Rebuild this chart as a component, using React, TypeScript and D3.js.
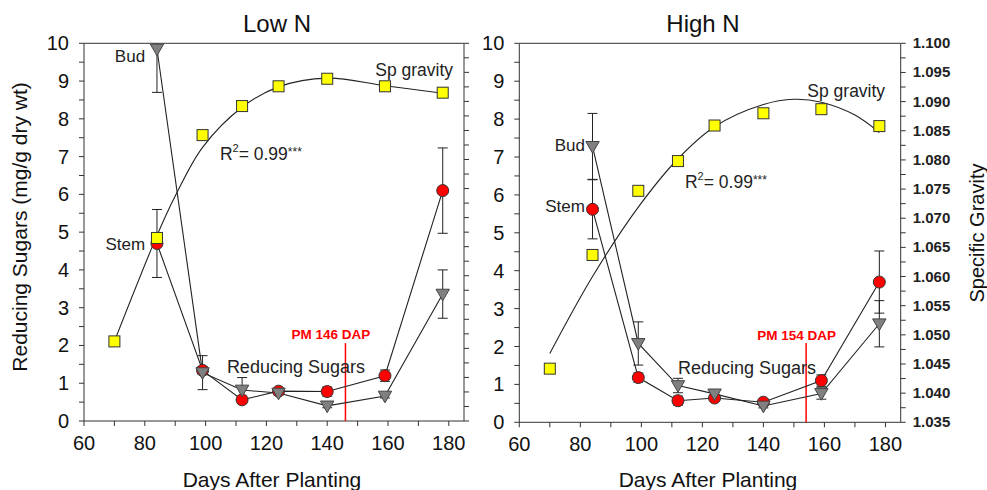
import React from 'react';
import * as d3 from 'd3';

// sampling days
const DAYS = [84, 99, 112, 124, 140, 159, 178];
const SG_DAYS = [70, 84, 99, 112, 124, 140, 159, 178];

// Low N
const LOW_BUD = [9.85, 1.28, 0.82, 0.74, 0.4, 0.66, 3.36];
const LOW_BUD_ERR = [1.15, 0.45, 0.33, 0.05, 0.05, 0.05, 0.64];
const LOW_STEM = [4.7, 1.34, 0.56, 0.79, 0.78, 1.2, 6.1];
const LOW_STEM_ERR = [0.9, 0.1, 0.1, 0.05, 0.12, 0.15, 1.13];
const LOW_SG = [1.0487, 1.0665, 1.0842, 1.0892, 1.0926, 1.0939, 1.0926, 1.0915];
const LOW_FIT_DAYS = [70, 84, 90, 99, 112, 124, 140, 159, 178];
const LOW_FIT = [1.0487, 1.0669, 1.0737, 1.0821, 1.0890, 1.0925, 1.0940, 1.0927, 1.0914];

// High N
const HIGH_BUD = [7.28, 2.08, 0.97, 0.75, 0.43, 0.76, 2.6];
const HIGH_BUD_ERR = [0.87, 0.57, 0.19, 0.05, 0.05, 0.15, 0.61];
const HIGH_STEM = [5.62, 1.18, 0.57, 0.64, 0.53, 1.1, 3.7];
const HIGH_STEM_ERR = [0.78, 0.12, 0.12, 0.05, 0.05, 0.15, 0.82];
const HIGH_SG = [1.0442, 1.0637, 1.0747, 1.0798, 1.0859, 1.0880, 1.0887, 1.0858];
const HIGH_FIT_DAYS = [70, 84, 99, 112, 124, 140, 150, 159, 170, 178];
const HIGH_FIT = [1.0468, 1.0600, 1.0719, 1.0802, 1.0857, 1.0895, 1.0904, 1.0899, 1.0877, 1.0847];

const X_TICKS = d3.range(60, 181, 10);
const X_LABELS = d3.range(60, 181, 20);
const Y_TICKS = d3.range(0, 10.01, 0.5);
const Y_LABELS = d3.range(0, 11, 1);
const SG_TICKS = d3.range(1.035, 1.1001, 0.0025);
const SG_LABELS = d3.range(1.035, 1.1001, 0.005);

const FONT = '"Liberation Sans", Arial, sans-serif';
const INK = '#222';

const panels = [
  {
    key: 'low', title: 'Low N', titleX: 277,
    left: 84, right: 464, top: 43.3, bottom: 421,
    bud: LOW_BUD, budErr: LOW_BUD_ERR, stem: LOW_STEM, stemErr: LOW_STEM_ERR,
    sg: LOW_SG, fitDays: LOW_FIT_DAYS, fit: LOW_FIT,
    pm: 146, pmTop: 2.06, pmLabel: 'PM 146 DAP', pmLabelAt: [154.2, 2.17],
    budAt: [80.1, 9.5], stemAt: [80.1, 4.52], sgAt: [181.4, 9.13],
    r2At: [104.7, 6.9], rsAt: [107, 1.27], showSgLabels: false,
  },
  {
    key: 'high', title: 'High N', titleX: 703,
    left: 519.3, right: 900.7, top: 43.3, bottom: 422.3,
    bud: HIGH_BUD, budErr: HIGH_BUD_ERR, stem: HIGH_STEM, stemErr: HIGH_STEM_ERR,
    sg: HIGH_SG, fitDays: HIGH_FIT_DAYS, fit: HIGH_FIT,
    pm: 154, pmTop: 2.09, pmLabel: 'PM 154 DAP', pmLabelAt: [163.8, 2.17],
    budAt: [81.5, 7.17], stemAt: [81.5, 5.56], sgAt: [179.9, 8.58],
    r2At: [114.3, 6.18], rsAt: [112, 1.27], showSgLabels: true,
  },
];

function Panel({ p }) {
  const x = d3.scaleLinear().domain([60, 185]).range([p.left, p.right]);
  const y = d3.scaleLinear().domain([0, 10]).range([p.bottom, p.top]);
  const y2 = d3.scaleLinear().domain([1.035, 1.1]).range([p.bottom, p.top]);

  const straight = d3.line().x(d => x(d[0])).y(d => y(d[1]));
  const fitLine = d3.line().x(d => x(d[0])).y(d => y2(d[1])).curve(d3.curveCatmullRom.alpha(0.5));
  const tri = d3.symbol().type(d3.symbolTriangle).size(78)();

  const budPts = DAYS.map((d, i) => [d, p.bud[i]]);
  const stemPts = DAYS.map((d, i) => [d, p.stem[i]]);
  const fitPts = p.fitDays.map((d, i) => [d, p.fit[i]]);
  const clipId = 'clip-' + p.key;

  const errBars = (vals, errs, key) => DAYS.map((d, i) => {
    const cx = x(d);
    const lo = y(vals[i] - errs[i]);
    const hi = y(vals[i] + errs[i]);
    return (
      <g key={key + i} stroke={INK} strokeWidth={1} clipPath={`url(#${clipId})`}>
        <line x1={cx} x2={cx} y1={lo} y2={hi} />
        <line x1={cx - 5} x2={cx + 5} y1={lo} y2={lo} />
        <line x1={cx - 5} x2={cx + 5} y1={hi} y2={hi} />
      </g>
    );
  });

  return (
    <g>
      <defs>
        <clipPath id={clipId}>
          <rect x={p.left - 10} y={p.top} width={p.right - p.left + 20} height={p.bottom - p.top} />
        </clipPath>
      </defs>
      <text x={p.titleX} y={32} textAnchor="middle" fontSize={24} fontFamily={FONT} fill="#111">{p.title}</text>

      {/* frame */}
      <g stroke="#333" strokeWidth={1} fill="none">
        <line x1={p.left} x2={p.left} y1={p.top} y2={p.bottom} />
        <line x1={p.right} x2={p.right} y1={p.top} y2={p.bottom} />
        <line x1={p.left} x2={p.right} y1={p.top} y2={p.top} />
        <line x1={p.left} x2={p.right} y1={p.bottom} y2={p.bottom} />
        {X_TICKS.map(t => <line key={'xt' + t} x1={x(t)} x2={x(t)} y1={p.bottom} y2={p.bottom + 5} />)}
        {Y_TICKS.map(t => <line key={'yt' + t} x1={p.left - 5} x2={p.left} y1={y(t)} y2={y(t)} />)}
        {SG_TICKS.map(t => <line key={'st' + t} x1={p.right} x2={p.right + 5} y1={y2(t)} y2={y2(t)} />)}
      </g>
      <g fontFamily={FONT} fontSize={20} fill="#111">
        {X_LABELS.map(t => <text key={'xl' + t} x={x(t)} y={p.bottom + 29} textAnchor="middle">{t}</text>)}
        {Y_LABELS.map(t => <text key={'yl' + t} x={p.left - 15} y={y(t) + 7} textAnchor="end">{t}</text>)}
      </g>
      {p.showSgLabels && (
        <g fontFamily={FONT} fontSize={15} fontWeight="bold" fill="#222">
          {SG_LABELS.map(t => <text key={'sl' + t} x={p.right + 12} y={y2(t) + 5}>{t.toFixed(3)}</text>)}
        </g>
      )}
      <text x={(p.left + p.right) / 2 - 2} y={487} textAnchor="middle" fontSize={21} fontFamily={FONT} fill="#111">Days After Planting</text>

      {/* PM line */}
      <line x1={x(p.pm)} x2={x(p.pm)} y1={y(0)} y2={y(p.pmTop)} stroke="#ff0000" strokeWidth={1.5} />
      <text x={x(p.pmLabelAt[0])} y={y(p.pmLabelAt[1])} textAnchor="end" fontSize={13.5} fontWeight="bold" fontFamily={FONT} fill="#ff0000">{p.pmLabel}</text>

      {/* lines */}
      <path d={fitLine(fitPts)} fill="none" stroke={INK} strokeWidth={1.1} />
      <path d={straight(budPts)} fill="none" stroke={INK} strokeWidth={1.1} />
      <path d={straight(stemPts)} fill="none" stroke={INK} strokeWidth={1.1} />

      {errBars(p.stem, p.stemErr, 'se')}
      {errBars(p.bud, p.budErr, 'be')}

      {stemPts.map((d, i) => (
        <circle key={'c' + i} cx={x(d[0])} cy={y(d[1])} r={6} fill="#ff0000" stroke="#333" strokeWidth={1} />
      ))}
      {budPts.map((d, i) => (
        <path key={'t' + i} d={tri} transform={`translate(${x(d[0])},${y(d[1]) - 1}) rotate(180)`} fill="#808080" stroke="#444" strokeWidth={1} />
      ))}
      {SG_DAYS.map((d, i) => (
        <rect key={'s' + i} x={x(d) - 5.5} y={y2(p.sg[i]) - 5.5} width={11} height={11} fill="#ffff00" stroke="#333" strokeWidth={1} />
      ))}

      {/* annotations */}
      <g fontFamily={FONT} fontSize={18} fill="#222">
        <text x={x(p.budAt[0])} y={y(p.budAt[1])} textAnchor="end" fontSize={17}>Bud</text>
        <text x={x(p.stemAt[0])} y={y(p.stemAt[1])} textAnchor="end" fontSize={17}>Stem</text>
        <text x={x(p.sgAt[0])} y={y(p.sgAt[1])} textAnchor="end" fontSize={17.5}>Sp gravity</text>
        <text x={x(p.r2At[0])} y={y(p.r2At[1])} fontSize={17.5}>
          R<tspan fontSize={11} dy={-8}>2</tspan><tspan dy={8}>= 0.99</tspan><tspan fontSize={12} dy={-4}>***</tspan>
        </text>
        <text x={x(p.rsAt[0])} y={y(p.rsAt[1])}>Reducing Sugars</text>
      </g>
    </g>
  );
}

export default function App() {
  return (
    <svg width={987} height={490} style={{ position: 'absolute', left: 0, top: 0, background: '#fff' }}>
      <rect width={987} height={490} fill="#fff" />
      {panels.map(p => <Panel key={p.key} p={p} />)}
      <text transform="translate(27,227) rotate(-90)" textAnchor="middle" fontSize={21} fontFamily={FONT} fill="#111">Reducing Sugars (mg/g dry wt)</text>
      <text transform="translate(984,233) rotate(-90)" textAnchor="middle" fontSize={20} fontFamily={FONT} fill="#111">Specific Gravity</text>
    </svg>
  );
}
